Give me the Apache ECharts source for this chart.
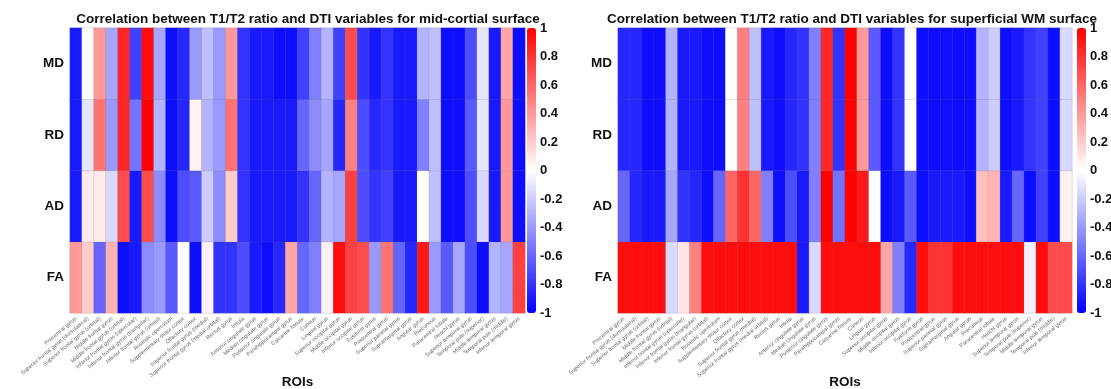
<!DOCTYPE html>
<html><head><meta charset="utf-8">
<script src="https://cdn.jsdelivr.net/npm/echarts@6/dist/echarts.min.js"></script>
<style>html,body{margin:0;padding:0;background:#fff}#c{width:1111px;height:389px}</style>
</head><body><div id="c"></div>
<script>
const rois = ["Precentral gyrus","Superior frontal gyrus (dorsolateral)","Superior frontal gyrus (orbital)","Middle frontal gyrus","Middle frontal gyrus (orbital)","Inferior frontal gyrus (opercular)","Inferior frontal gyrus (triangular)","Inferior frontal gyrus (orbital)","Rolandic operculum","Supplementary motor cortex","Olfactory cortex","Superior frontal gyrus (medial)","Superior frontal gyrus (medial orbital)","Rectus gyrus","Insula","Anterior cingulate gyrus","Median cingulate gyrus","Posterior cingulate gyrus","Parahippocampal gyrus","Calcarine fissure","Cuneus","Lingual gyrus","Superior occipital gyrus","Middle occipital gyrus","Inferior occipital gyrus","Fusiform gyrus","Postcentral gyrus","Superior parietal gyrus","Supramarginal gyrus","Angular gyrus","Precuneus","Paracentral lobule","Heschl gyrus","Superior temporal gyrus","Temporal pole (superior)","Middle temporal gyrus","Temporal pole (middle)","Inferior temporal gyrus"];
const measures = ["FA","AD","RD","MD"]; // bottom to top

// mid-cortical surface
const midMD = [-0.9,0.0,0.4,-0.35,0.85,-0.75,0.95,-0.35,-0.95,-0.85,-0.4,-0.25,-0.4,0.4,-0.8,-0.9,-0.9,-0.95,-0.95,-0.75,-0.5,-0.3,-0.75,0.7,-0.8,-0.9,-0.8,-0.9,-0.9,-0.3,-0.25,-0.95,-0.95,-0.7,-0.1,-0.9,0.35,-0.95];
const midRD = [-0.9,-0.1,0.55,-0.4,0.85,-0.55,1.0,-0.3,-0.95,-0.85,0.05,-0.3,-0.4,0.55,-0.8,-0.9,-0.9,-0.9,-0.9,-0.6,-0.45,-0.35,-0.85,0.5,-0.7,-0.85,-0.8,-0.9,-0.9,-0.5,-0.25,-0.95,-0.95,-0.65,-0.1,-0.9,0.4,-0.95];
const midAD = [-0.9,0.08,0.08,-0.15,0.7,-0.9,0.7,-0.45,-0.95,-0.7,-0.65,-0.2,-0.45,0.2,-0.8,-0.9,-0.9,-0.9,-0.9,-0.8,-0.6,-0.3,-0.35,0.75,-0.7,-0.8,-0.75,-0.9,-0.9,0.0,-0.25,-0.95,-0.95,-0.7,-0.15,-0.9,0.4,-0.95];
const midFA = [0.4,0.2,-0.6,0.3,-0.95,-0.9,-0.45,-0.4,-0.65,0.0,-0.95,0.05,-0.8,-0.8,-0.7,-0.9,-0.95,-0.85,0.35,-0.6,-0.5,0.05,0.95,0.75,0.7,-0.4,0.55,-0.6,-0.85,0.9,-0.4,-0.65,-0.35,-0.7,-0.95,-0.3,-0.35,0.75];

// superficial WM surface
const wmMD = [-0.85,-0.85,-0.95,-0.95,-0.3,-0.9,-0.9,-0.95,-0.95,0.0,0.5,-0.25,-0.9,-0.95,-0.85,-0.8,-0.5,0.85,-0.8,1.0,0.4,-0.65,-0.95,-0.8,0.0,-0.95,-0.95,-0.95,-0.95,-0.95,-0.3,-0.2,-0.95,-0.9,-0.8,-0.75,-0.95,-0.15];
const wmRD = [-0.85,-0.85,-0.95,-0.95,-0.3,-0.9,-0.9,-0.95,-0.95,0.0,0.5,-0.25,-0.9,-0.95,-0.85,-0.8,-0.5,0.85,-0.8,1.0,0.4,-0.65,-0.95,-0.8,0.0,-0.95,-0.95,-0.95,-0.95,-0.95,-0.3,-0.2,-0.95,-0.9,-0.8,-0.75,-0.95,-0.15];
const wmAD = [-0.6,-0.85,-0.9,-0.9,-0.35,-0.8,-0.85,-0.95,-0.6,0.6,0.8,0.6,-0.5,-0.95,-0.7,-0.9,-0.5,1.0,-0.55,1.0,0.9,0.0,-0.95,-0.9,-0.65,-0.95,-0.9,-0.9,-0.9,-0.95,0.25,0.3,-0.9,-0.6,-0.95,-0.75,-0.95,0.05];
const wmFA = [0.95,0.95,0.95,0.95,-0.15,0.1,0.5,0.95,0.95,0.95,0.95,0.95,0.95,0.95,0.95,-0.9,-0.15,0.95,0.95,0.95,0.95,0.95,0.35,-0.5,-0.85,0.95,0.8,0.8,0.95,0.95,0.95,0.95,0.95,0.95,-0.05,0.95,0.7,0.7];

const titles = ["Correlation between T1/T2 ratio and DTI variables for mid-cortial surface","Correlation between T1/T2 ratio and DTI variables for superficial WM surface"];
const axisTitle = "ROIs";

function toData(rows){ // rows ordered as measures (FA, AD, RD, MD)
  const d=[];
  rows.forEach((r,yi)=>r.forEach((v,xi)=>d.push([xi,yi,v])));
  return d;
}
const midData = toData([midFA,midAD,midRD,midMD]);
const wmData = toData([wmFA,wmAD,wmRD,wmMD]);

const FONT = "Liberation Sans, Arial, sans-serif";
const panels = [{left:70,width:455,bar:527,title:303},{left:618,width:454,bar:1077,title:847}];
const gridTop=28, gridH=285;

const grid=[],xAxis=[],yAxis=[],series=[],visualMap=[],title=[];
panels.forEach((p,i)=>{
  grid.push({left:p.left,top:gridTop,width:p.width,height:gridH,outerBoundsMode:'none',containLabel:false});
  xAxis.push({type:'category',gridIndex:i,data:rois,
    axisLine:{show:false},axisTick:{show:false},splitLine:{show:false},
    axisLabel:{interval:0,rotate:40,fontSize:5.5,color:'#666',margin:5,fontFamily:FONT}});
  yAxis.push({type:'category',gridIndex:i,data:measures,
    axisLine:{show:false},axisTick:{show:false},
    axisLabel:{fontSize:13.5,fontWeight:'bold',color:'#111',margin:6,fontFamily:FONT}});
  series.push({type:'heatmap',xAxisIndex:i,yAxisIndex:i,data:i===0?midData:wmData,
    itemStyle:{borderColor:'rgba(110,110,110,0.35)',borderWidth:0.5},emphasis:{disabled:true}});
  visualMap.push({type:'continuous',seriesIndex:i,min:-1,max:1,calculable:false,
    orient:'vertical',left:p.bar,top:gridTop,itemWidth:9,itemHeight:gridH,padding:0,
    text:null,showLabel:false,
    inRange:{color:['#0000ff','#ffffff','#ff0000']}});
  title.push({text:titles[i],left:p.title,top:7,textAlign:'center',
    textStyle:{fontSize:13.5,fontWeight:'bold',color:'#111',fontFamily:FONT}});
  title.push({text:axisTitle,left:p.left+p.width/2,top:375,textAlign:'center',padding:0,
    textStyle:{fontSize:13.5,fontWeight:'bold',color:'#111',fontFamily:FONT}});
});
// colour-bar tick labels
panels.forEach((p,i)=>{
  const gi=2+i;
  grid.push({left:p.bar+9,top:gridTop,width:1,height:gridH,outerBoundsMode:'none',containLabel:false});
  xAxis.push({type:'value',gridIndex:gi,show:false});
  yAxis.push({type:'value',gridIndex:gi,min:-1,max:1,interval:0.2,position:'right',
    axisLine:{show:false},axisTick:{show:false},splitLine:{show:false},
    axisLabel:{margin:3,fontSize:13,fontWeight:'bold',color:'#111',fontFamily:FONT,
      formatter:v=>String(Math.round(v*10)/10)}});
});

const chart = echarts.init(document.getElementById('c'),null,{renderer:'canvas'});
chart.setOption({animation:false,backgroundColor:'#fff',title,grid,xAxis,yAxis,visualMap,series});
</script>
</body></html>
